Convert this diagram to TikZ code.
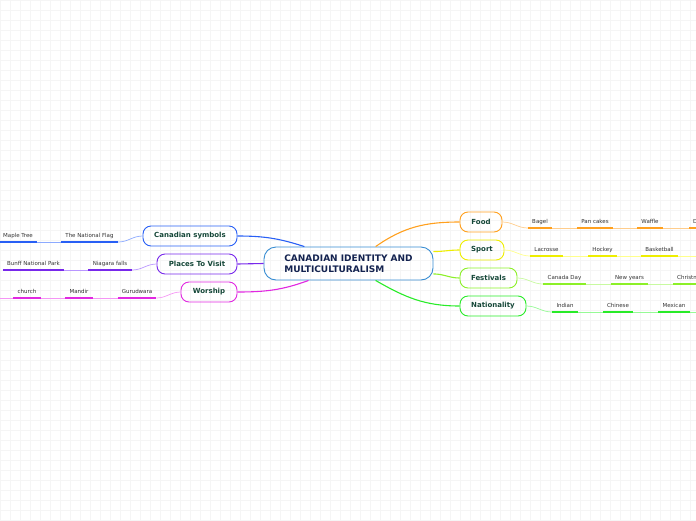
\documentclass[tikz,border=0pt]{standalone}
\usepackage{fontspec}
\setmainfont{DejaVu Sans}
\usepackage{tikz}
\usetikzlibrary{arrows.meta}

\definecolor{centralc}{RGB}{55,140,210}
\definecolor{centraltext}{RGB}{20,35,80}
\definecolor{topictext}{RGB}{20,70,55}
\definecolor{symbolsc}{RGB}{40,95,245}
\definecolor{symbolsl}{RGB}{140,170,255}
\definecolor{placesc}{RGB}{120,40,235}
\definecolor{placesl}{RGB}{185,150,255}
\definecolor{worshipc}{RGB}{225,40,225}
\definecolor{worshipl}{RGB}{245,150,245}
\definecolor{foodc}{RGB}{255,160,30}
\definecolor{foodl}{RGB}{255,205,140}
\definecolor{sportc}{RGB}{238,238,0}
\definecolor{sportl}{RGB}{255,255,140}
\definecolor{festc}{RGB}{140,240,40}
\definecolor{festl}{RGB}{200,250,160}
\definecolor{natc}{RGB}{40,235,40}
\definecolor{natl}{RGB}{150,250,150}

\begin{document}
\begin{tikzpicture}[x=1pt,y=-1pt,
  central/.style={draw=centralc,line width=0.9pt,rounded corners=12pt,
    minimum width=169pt,minimum height=33pt,align=left,text=centraltext,
    font=\fontsize{9}{11}\selectfont\bfseries},
  topic/.style={draw=#1,line width=0.9pt,rounded corners=8pt,
    minimum height=20pt,inner xsep=2pt,text=topictext,
    font=\fontsize{7}{8}\selectfont\bfseries},
  branch/.style={draw=#1,line width=1.1pt},
  leaf/.style={font=\fontsize{5.5}{6}\selectfont,text=black!80,
    inner xsep=4pt,inner ysep=3pt,text height=4pt,text depth=1pt,anchor=south},
  uline/.style={draw=#1,line width=2pt},
  twig/.style={draw=#1,line width=0.7pt}]
  \useasboundingbox (0,0) rectangle (696,520);
  \clip (0,0) rectangle (696,520);
  % faint grid in the background
  \foreach \gx in {0,10,...,690}
    \draw[black!4,line width=0.3pt] (\gx,0) -- (\gx,520);
  \foreach \gy in {0,10,...,520}
    \draw[black!4,line width=0.3pt] (0,\gy) -- (696,\gy);

  \begin{scope}[yshift=-2pt]
  \node[central] (root) at (348.5,261.5)
    {CANADIAN IDENTITY AND\\MULTICULTURALISM};

  % left side topics
  \node[topic=symbolsc,minimum width=94pt] (symbols) at (190,234) {Canadian symbols};
  \node[topic=placesc,minimum width=80pt] (places) at (197,262) {Places To Visit};
  \node[topic=worshipc,minimum width=56pt] (worship) at (209,290) {Worship};
  % right side topics
  \node[topic=foodc,minimum width=42pt] (food) at (481,220) {Food};
  \node[topic=sportc,minimum width=44pt] (sport) at (482,248) {Sport};
  \node[topic=festc,minimum width=57pt] (festivals) at (488.5,276) {Festivals};
  \node[topic=natc,minimum width=66pt] (nationality) at (493,304) {Nationality};

  \draw[branch=symbolsc] (symbols.east) to[out=0,in=162] (root.159);
  \draw[branch=placesc] (places.east) -- (root.west);
  \draw[branch=worshipc] (worship.east) to[out=0,in=200] (root.203);
  \draw[branch=foodc] (root.32) to[out=35,in=180] (food.west);
  \draw[branch=sportc] (root.8) to[out=0,in=180] (sport.west);
  \draw[branch=festc] (root.353) to[out=0,in=180] (festivals.west);
  \draw[branch=natc] (root.328) to[out=-30,in=180] (nationality.west);

  % Canadian symbols
  \node[leaf,minimum width=57pt] (flag) at (89.5,240) {The National Flag};
  \node[leaf,minimum width=36pt] (maple) at (18,240) {Maple Tree};
  \draw[twig=symbolsl] (symbols.west) to[out=180,in=0] (flag.south east);
  \draw[twig=symbolsl] (flag.south west) -- (maple.south east);
  \draw[uline=symbolsc] (flag.south west) -- (flag.south east);
  \draw[uline=symbolsc] (maple.south west) -- (maple.south east);

  % Places To Visit
  \node[leaf,minimum width=44pt] (niagara) at (110,268) {Niagara falls};
  \node[leaf,minimum width=61pt] (banff) at (33.5,268) {Bunff National Park};
  \draw[twig=placesl] (places.west) to[out=180,in=0] (niagara.south east);
  \draw[twig=placesl] (niagara.south west) -- (banff.south east);
  \draw[uline=placesc] (niagara.south west) -- (niagara.south east);
  \draw[uline=placesc] (banff.south west) -- (banff.south east);

  % Worship
  \coordinate (worshipend) at (0,296);
  \node[leaf,minimum width=38pt] (gurudwara) at (137,296) {Gurudwara};
  \node[leaf,minimum width=28pt] (mandir) at (79,296) {Mandir};
  \node[leaf,minimum width=28pt] (church) at (27,296) {church};
  \draw[twig=worshipl] (worship.west) to[out=180,in=0] (gurudwara.south east);
  \draw[twig=worshipl] (gurudwara.south west) -- (mandir.south east);
  \draw[twig=worshipl] (mandir.south west) -- (church.south east);
  \draw[twig=worshipl] (church.south west) -- (worshipend);
  \draw[uline=worshipc] (gurudwara.south west) -- (gurudwara.south east);
  \draw[uline=worshipc] (mandir.south west) -- (mandir.south east);
  \draw[uline=worshipc] (church.south west) -- (church.south east);

  % Food
  \node[leaf,minimum width=24pt] (bagel) at (540,226) {Bagel};
  \node[leaf,minimum width=36pt] (pancakes) at (595,226) {Pan cakes};
  \node[leaf,minimum width=26pt] (waffle) at (650,226) {Waffle};
  \node[leaf,anchor=south west] (donuts) at (689,226) {Donuts};
  \draw[twig=foodl] (food.east) to[out=0,in=180] (bagel.south west);
  \draw[twig=foodl] (bagel.south east) -- (pancakes.south west);
  \draw[twig=foodl] (pancakes.south east) -- (waffle.south west);
  \draw[twig=foodl] (waffle.south east) -- (donuts.south west);
  \draw[uline=foodc] (bagel.south west) -- (bagel.south east);
  \draw[uline=foodc] (pancakes.south west) -- (pancakes.south east);
  \draw[uline=foodc] (waffle.south west) -- (waffle.south east);
  \draw[uline=foodc] (donuts.south west) -- (donuts.south east);

  % Sport
  \coordinate (sportend) at (696,254);
  \node[leaf,minimum width=33pt] (lacrosse) at (546.5,254) {Lacrosse};
  \node[leaf,minimum width=29pt] (hockey) at (602.5,254) {Hockey};
  \node[leaf,minimum width=37pt] (basketball) at (659.5,254) {Basketball};
  \draw[twig=sportl] (sport.east) to[out=0,in=180] (lacrosse.south west);
  \draw[twig=sportl] (lacrosse.south east) -- (hockey.south west);
  \draw[twig=sportl] (hockey.south east) -- (basketball.south west);
  \draw[twig=sportl] (basketball.south east) -- (sportend);
  \draw[uline=sportc] (lacrosse.south west) -- (lacrosse.south east);
  \draw[uline=sportc] (hockey.south west) -- (hockey.south east);
  \draw[uline=sportc] (basketball.south west) -- (basketball.south east);

  % Festivals
  \node[leaf,minimum width=43pt] (canadaday) at (564.5,282) {Canada Day};
  \node[leaf,minimum width=37pt] (newyears) at (629.5,282) {New years};
  \node[leaf,anchor=south west] (christmas) at (673,282) {Christmas};
  \draw[twig=festl] (festivals.east) to[out=0,in=180] (canadaday.south west);
  \draw[twig=festl] (canadaday.south east) -- (newyears.south west);
  \draw[twig=festl] (newyears.south east) -- (christmas.south west);
  \draw[uline=festc] (canadaday.south west) -- (canadaday.south east);
  \draw[uline=festc] (newyears.south west) -- (newyears.south east);
  \draw[uline=festc] (christmas.south west) -- (christmas.south east);

  % Nationality
  \coordinate (natend) at (696,310);
  \node[leaf,minimum width=26pt] (indian) at (565,310) {Indian};
  \node[leaf,minimum width=30pt] (chinese) at (618,310) {Chinese};
  \node[leaf,minimum width=32pt] (mexican) at (674,310) {Mexican};
  \draw[twig=natl] (nationality.east) to[out=0,in=180] (indian.south west);
  \draw[twig=natl] (indian.south east) -- (chinese.south west);
  \draw[twig=natl] (chinese.south east) -- (mexican.south west);
  \draw[twig=natl] (mexican.south east) -- (natend);
  \draw[uline=natc] (indian.south west) -- (indian.south east);
  \draw[uline=natc] (chinese.south west) -- (chinese.south east);
  \draw[uline=natc] (mexican.south west) -- (mexican.south east);
  \end{scope}
\end{tikzpicture}
\end{document}
